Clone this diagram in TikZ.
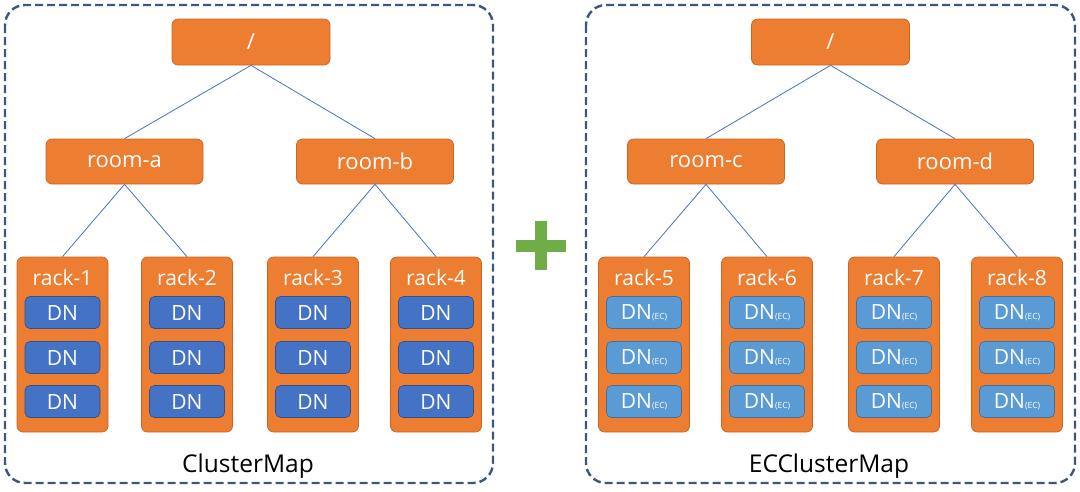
\documentclass[tikz,border=0pt]{standalone}
\usepackage{fontspec}
\setmainfont{Open Sans}
\definecolor{org}{HTML}{ED7D31}
\definecolor{orgb}{HTML}{C9651F}
\definecolor{dnb}{HTML}{4472C4}
\definecolor{dnbd}{HTML}{2F528F}
\definecolor{ecb}{HTML}{5B9BD5}
\definecolor{ecbd}{HTML}{41719C}
\definecolor{contc}{HTML}{3E5580}
\definecolor{plusg}{HTML}{70AD47}
\newcommand{\ecdn}{DN{\fontsize{8.5}{8.5}\selectfont (EC)}}
\begin{document}
\begin{tikzpicture}[x=1pt,y=-1pt,
  obox/.style={draw=orgb, fill=org, rounded corners=6pt, line width=0.7pt, inner sep=0pt, text=white, font=\fontsize{22}{22}\selectfont},
  topbox/.style={obox, minimum width=158pt, minimum height=46pt},
  roombox/.style={obox, minimum width=157pt, minimum height=45pt},
  rackbox/.style={obox, minimum width=91pt, minimum height=175pt},
  racklbl/.style={text=white, inner sep=0pt, anchor=base, font=\fontsize{21}{21}\selectfont},
  dnbox/.style={draw=dnbd, fill=dnb, rounded corners=5pt, line width=0.7pt, minimum width=75pt, minimum height=32pt, inner sep=0pt, text=white, font=\fontsize{21}{21}\selectfont},
  ecbox/.style={dnbox, draw=ecbd, fill=ecb},
  link/.style={draw=dnb, line width=0.8pt},
  cont/.style={draw=contc, line width=2.4pt, dash pattern=on 8pt off 4pt, rounded corners=20pt},
  title/.style={inner sep=0pt, anchor=base, text=black, font=\fontsize{24.5}{24.5}\selectfont}
]
\useasboundingbox (0,0) rectangle (1080,491);
% containers
\draw[cont] (5,5) rectangle (493,483);
\draw[cont] (586,5) rectangle (1075,483);
% left tree
\node[topbox] (r1) at (251,42) {/};
\node[roombox] (ra) at (124.5,161.5) {room-a};
\node[roombox] (rb) at (375,161.5) {room-b};
\draw[link] (r1.south) -- (ra.north);
\draw[link] (r1.south) -- (rb.north);
% right tree
\node[topbox] (r2) at (830.5,42) {/};
\node[roombox] (rc) at (706,161.5) {room-c};
\node[roombox] (rd) at (955,161.5) {room-d};
\draw[link] (r2.south) -- (rc.north);
\draw[link] (r2.south) -- (rd.north);
% racks
\foreach \i/\x/\p in {1/62.5/ra,2/187/ra,3/313/rb,4/436/rb}{
  \node[rackbox] (k\i) at (\x,344.5) {};
  \node[racklbl] (kl\i) at (\x,285.5) {rack-\i};
  \node[dnbox] (d\i a) at (\x,312.5) {DN};
  \node[dnbox] (d\i b) at (\x,357.5) {DN};
  \node[dnbox] (d\i c) at (\x,401.5) {DN};
  \draw[link] (\p.south) -- (k\i.north);
}
\foreach \i/\x/\p in {5/644/rc,6/767/rc,7/894/rd,8/1017/rd}{
  \node[rackbox] (k\i) at (\x,344.5) {};
  \node[racklbl] (kl\i) at (\x,285.5) {rack-\i};
  \node[ecbox] (d\i a) at (\x,312.5) {\ecdn};
  \node[ecbox] (d\i b) at (\x,357.5) {\ecdn};
  \node[ecbox] (d\i c) at (\x,401.5) {\ecdn};
  \draw[link] (\p.south) -- (k\i.north);
}
% plus
\fill[plusg] (535,221) rectangle (547,270);
\fill[plusg] (516,239.5) rectangle (566,251.5);
% titles
\node[title] (t1) at (248,472) {ClusterMap};
\node[title] (t2) at (829,472) {ECClusterMap};
\end{tikzpicture}
\end{document}
